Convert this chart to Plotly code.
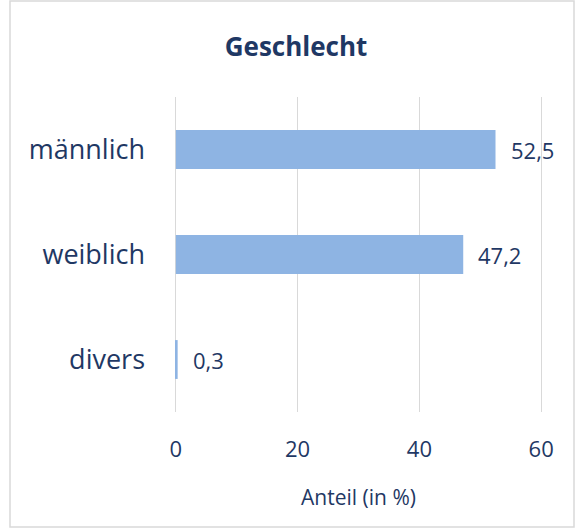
import plotly.graph_objects as go

categories = ["divers", "weiblich", "männlich"]
values = [0.3, 47.2, 52.5]
x_ticks = [0, 20, 40, 60]

navy = "#1F3864"
font_fam = "Open Sans, Calibri, Carlito, sans-serif"

fig = go.Figure(go.Bar(
    y=categories, x=values, orientation="h",
    marker=dict(color="#8EB4E3", line=dict(width=0)),
    width=0.37,
))

W, H = 576, 530
l, r, t, b = 174, 33, 97, 118
pw, ph = W - l - r, H - t - b

def px2x(p):
    return (p - l) / pw

def px2y(p):
    return (H - b - p) / ph

annotations = [
    dict(x=v, y=c, xref="x", yref="y", text=f"{v:.1f}".replace(".", ","),
         showarrow=False, xanchor="left", yanchor="middle", xshift=13,
         font=dict(size=22, color=navy, family=font_fam))
    for c, v in zip(categories, values)
]

fig.update_layout(
    width=W, height=H,
    margin=dict(l=l, r=r, t=t, b=b),
    paper_bgcolor="white", plot_bgcolor="white",
    separators=",.",
    title=dict(text="<b>Geschlecht</b>", x=296 / W, xanchor="center",
               y=1 - 47 / H, yanchor="middle",
               font=dict(size=26, color=navy, family=font_fam)),
    xaxis=dict(range=[-0.3, 60.3], tickvals=x_ticks, showgrid=True, gridcolor="#D9D9D9", gridwidth=1.3,
               zeroline=True, zerolinecolor="#D9D9D9", zerolinewidth=1.3,
               showline=False, ticks="",
               tickfont=dict(size=22, color=navy, family=font_fam),
               ticklabelstandoff=22,
               title=dict(text="Anteil (in %)", font=dict(size=21, color=navy, family=font_fam), standoff=28)),
    yaxis=dict(categoryorder="array", categoryarray=categories, range=[-0.5, 2.5],
               showgrid=False, zeroline=False, showline=False, ticks="",
               tickfont=dict(size=27, color=navy, family=font_fam), ticklabelstandoff=28),
    showlegend=False,
    annotations=annotations,
    shapes=[dict(type="rect", xref="paper", yref="paper",
                 x0=px2x(10), x1=px2x(574), y0=px2y(527), y1=px2y(1),
                 line=dict(color="#D9D9D9", width=1.5), fillcolor="rgba(0,0,0,0)", layer="below")],
)

fig.write_html("out.html", config={"displayModeBar": False},
               post_script="document.body.style.margin='0';document.body.style.padding='0';")
